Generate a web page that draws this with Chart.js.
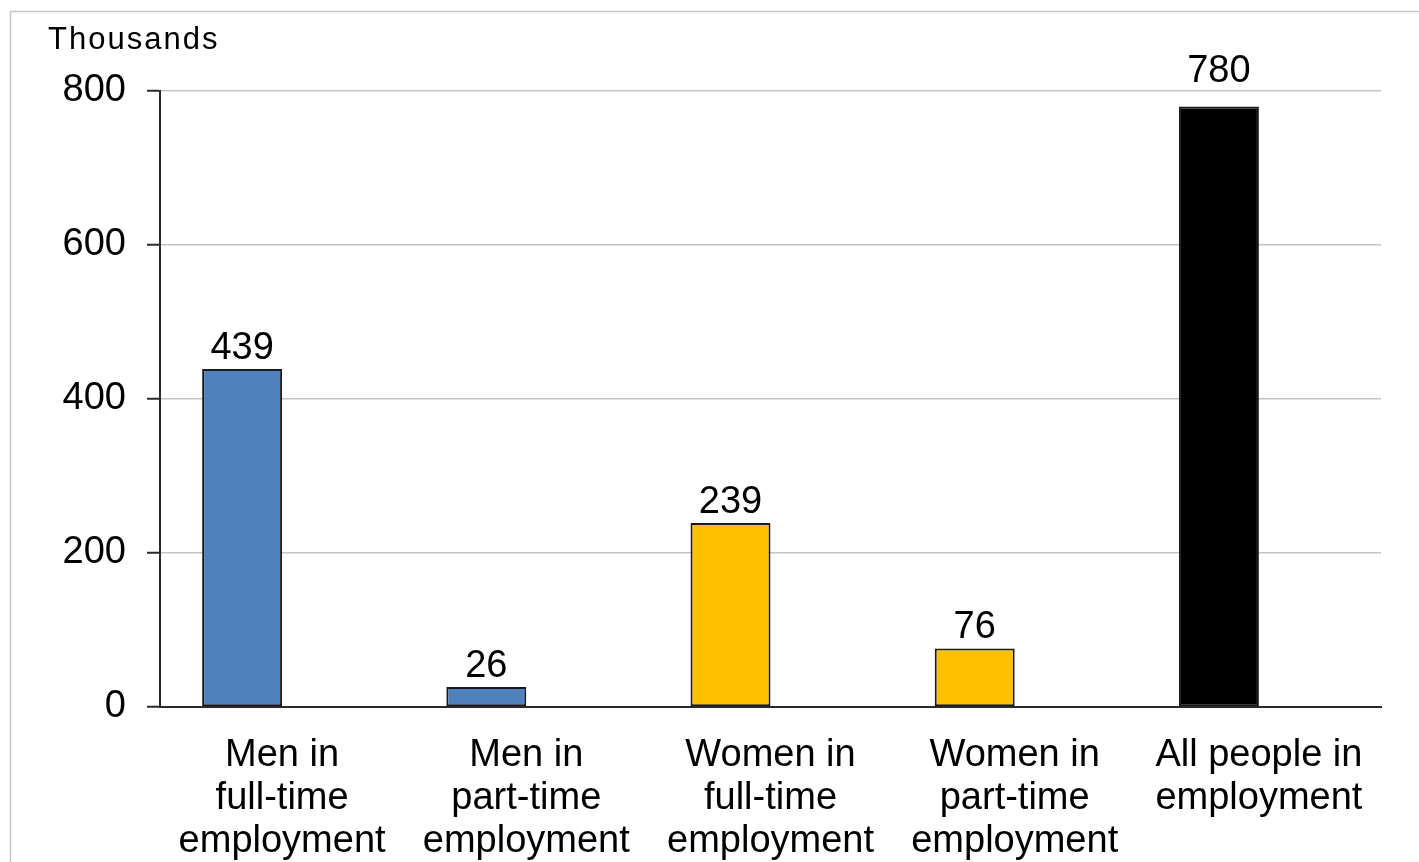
<!DOCTYPE html>
<html>
<head>
<meta charset="utf-8">
<title>Employment, thousands</title>
<script src="https://cdn.jsdelivr.net/npm/chart.js@4/dist/chart.umd.min.js"></script>
<style>
  html, body { margin: 0; padding: 0; background: #ffffff; overflow: hidden; }
  #wrap { position: relative; width: 1419px; height: 862px; }
  canvas { display: block; }
</style>
</head>
<body>
<div id="wrap"><canvas id="chart" width="1419" height="862"></canvas></div>
<script>
// Categories (multi-line labels under the axis)
const categories = [
  ['Men in', 'full-time', 'employment'],
  ['Men in', 'part-time', 'employment'],
  ['Women in', 'full-time', 'employment'],
  ['Women in', 'part-time', 'employment'],
  ['All people in', 'employment']
];
// Values in thousands
const values = [439, 26, 239, 76, 780];
// Fill colour per bar
const barColors = ['#4f81bd', '#4f81bd', '#ffc000', '#ffc000', '#000000'];
// Value axis ticks
const yTicks = [0, 200, 400, 600, 800];
const unitLabel = 'Thousands';

const FONT = "'Liberation Sans', Arial, Helvetica, sans-serif";

// Frame, unit caption and value labels
const decorations = {
  id: 'decorations',
  beforeDraw(chart) {
    const ctx = chart.ctx;
    ctx.save();
    ctx.fillStyle = '#ffffff';
    ctx.fillRect(0, 0, chart.width, chart.height);
    ctx.strokeStyle = '#c8c8c8';
    ctx.lineWidth = 1.5;
    ctx.strokeRect(10.5, 11.5, chart.width + 40, chart.height + 40);
    ctx.restore();
  },
  afterDraw(chart) {
    const ctx = chart.ctx;
    const area = chart.chartArea;
    ctx.save();
    // unit caption
    ctx.fillStyle = '#000000';
    ctx.font = '31px ' + FONT;
    ctx.textAlign = 'left';
    ctx.textBaseline = 'alphabetic';
    ctx.letterSpacing = '2px';
    ctx.fillText(unitLabel, 48, 49);
    ctx.letterSpacing = '0px';
    // value labels above bars; a label that would cross the top gridline sits above it
    ctx.font = '38px ' + FONT;
    ctx.textAlign = 'center';
    const meta = chart.getDatasetMeta(0);
    meta.data.forEach((bar, i) => {
      let y = bar.y - 10;
      if (y - 28 < area.top) y = area.top - 9;
      ctx.fillText(String(values[i]), bar.x, y);
    });
    ctx.restore();
  }
};

new Chart(document.getElementById('chart'), {
  type: 'bar',
  data: {
    labels: categories,
    datasets: [{
      data: values,
      backgroundColor: barColors,
      borderColor: '#1a1a1a',
      borderWidth: 2,
      borderSkipped: false,
      categoryPercentage: 0.655,
      barPercentage: 1
    }, {
      // empty companion series: reserves the right-hand slot of each group
      data: values.map(() => null),
      categoryPercentage: 0.655,
      barPercentage: 1
    }]
  },
  options: {
    responsive: false,
    devicePixelRatio: 1,
    animation: false,
    layout: { padding: { top: 91, right: 38, left: 0, bottom: 0 } },
    plugins: {
      legend: { display: false },
      tooltip: { enabled: false },
      title: { display: false }
    },
    scales: {
      x: {
        grid: { display: false },
        border: { display: true, color: '#2a2a2a', width: 2 },
        ticks: {
          color: '#000000',
          font: { family: FONT, size: 38, lineHeight: 1.13 },
          padding: 19,
          maxRotation: 0,
          minRotation: 0,
          autoSkip: false
        },
        afterFit(scale) { scale.height = 155; }
      },
      y: {
        min: 0,
        max: 800,
        afterBuildTicks(scale) { scale.ticks = yTicks.map(v => ({ value: v })); },
        grid: {
          color: (c) => (c.tick && c.tick.value === 0 ? '#2a2a2a' : '#c4c4c4'),
          lineWidth: 1.5,
          drawTicks: true,
          tickLength: 13,
          tickColor: '#2a2a2a',
          tickWidth: 2
        },
        border: { display: true, color: '#2a2a2a', width: 2 },
        ticks: {
          color: '#000000',
          font: { family: FONT, size: 38 },
          padding: 21
        },
        afterFit(scale) { scale.width = 160; }
      }
    }
  },
  plugins: [decorations]
});
</script>
</body>
</html>
